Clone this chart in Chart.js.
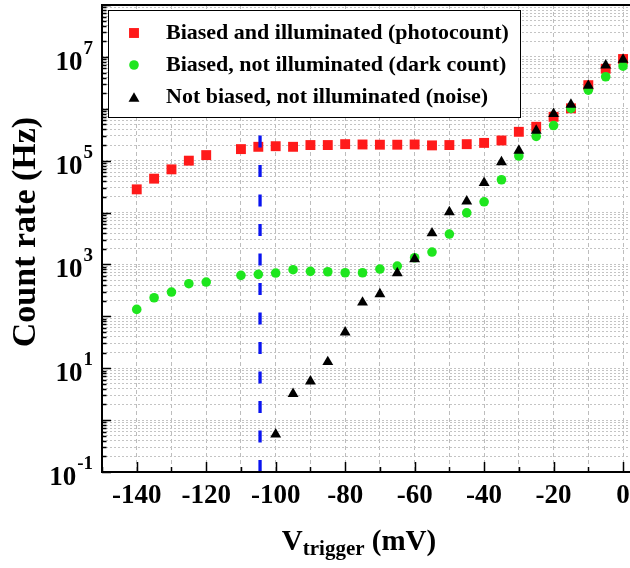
<!DOCTYPE html>
<html>
<head>
<meta charset="utf-8">
<script src="https://cdn.jsdelivr.net/npm/chart.js@4.4.1/dist/chart.umd.min.js"></script>
<style>
  html, body { margin: 0; padding: 0; background: #fff; }
  #wrap { width: 630px; height: 568px; position: relative; }
</style>
</head>
<body>
<div id="wrap"><canvas id="c"></canvas></div>
<script>
// trigger voltage (mV) for the biased runs and for the unbiased run
var vBiased = [-140, -135, -130, -125, -120, -110, -105, -100, -95, -90, -85, -80, -75, -70,
               -65, -60, -55, -50, -45, -40, -35, -30, -25, -20, -15, -10, -5, 0];
var vNoise  = [-100, -95, -90, -85, -80, -75, -70, -65, -60, -55, -50, -45, -40, -35, -30,
               -25, -20, -15, -10, -5, 0];

// count rates (Hz)
var photoCount = [2.8e4, 4.5e4, 6.8e4, 1.0e5, 1.28e5, 1.67e5, 1.85e5, 1.9e5, 1.85e5, 2.0e5,
                  2.0e5, 2.08e5, 2.05e5, 2.03e5, 2.03e5, 2.05e5, 1.97e5, 2.0e5, 2.08e5, 2.2e5,
                  2.45e5, 3.6e5, 4.5e5, 7.0e5, 1.02e6, 2.85e6, 5.9e6, 9.1e6];
var darkCount  = [136, 228, 294, 425, 458, 617, 645, 683, 791, 736, 723, 692, 692, 815, 931,
                  1345, 1734, 3850, 9900, 16100, 42900, 123000, 294000, 475000, 1.02e6,
                  2.29e6, 4.14e6, 6.65e6];
var noiseCount = [0.53, 3.2, 5.6, 13.2, 49, 185, 268, 680, 1270, 4000, 10200, 16400, 37500,
                  94000, 157000, 380000, 800000, 1.2e6, 2.8e6, 6.9e6, 8.9e6];

// dashed marker line
var cutoffV = -104.5;

var seriesNames = ['Biased and illuminated (photocount)',
                   'Biased, not illuminated (dark count)',
                   'Not biased, not illuminated (noise)'];

var xTickValues = [-150, -140, -130, -120, -110, -100, -90, -80, -70, -60, -50, -40, -30, -20, -10, 0];
var xTickLabels = [-140, -120, -100, -80, -60, -40, -20, 0];
var yLabelExps  = [-1, 1, 3, 5, 7];

var yGridValues = [];
for (var e = -1; e < 8; e++) {
  for (var k = 1; k < 10; k++) yGridValues.push(k * Math.pow(10, e));
}
yGridValues.push(1e8);

function pts(xs, ys) {
  return xs.map(function (x, i) { return { x: x, y: ys[i] }; });
}

var SERIF = '"Liberation Serif", "Times New Roman", serif';
var RED = '#ff1a1a', GREEN = '#1ee61e', BLACK = '#000000', BLUE = '#0a14f0';

var decor = {
  id: 'decor',
  afterDatasetsDraw: function (chart) {
    var ctx = chart.ctx, a = chart.chartArea;
    var xs = chart.scales.x, ys = chart.scales.y;
    ctx.save();

    // frame (right side runs off the canvas)
    ctx.strokeStyle = '#000';
    ctx.lineWidth = 2;
    ctx.strokeRect(a.left, a.top, a.right - a.left + 20, a.bottom - a.top);

    // inward ticks
    ctx.lineWidth = 1.5;
    ctx.beginPath();
    xTickValues.forEach(function (v) {
      var px = Math.round(xs.getPixelForValue(v)) + 0.5;
      ctx.moveTo(px, a.bottom);
      ctx.lineTo(px, a.bottom - (xTickLabels.indexOf(v) >= 0 ? 10 : 5));
    });
    yGridValues.forEach(function (v) {
      var py = Math.round(ys.getPixelForValue(v)) + 0.5;
      var major = Math.abs(Math.log10(v) - Math.round(Math.log10(v))) < 1e-9;
      ctx.moveTo(a.left, py);
      ctx.lineTo(a.left + (major ? 9 : 4.5), py);
    });
    ctx.stroke();

    // y tick labels 10^n
    ctx.fillStyle = '#000';
    ctx.textAlign = 'right';
    ctx.textBaseline = 'alphabetic';
    yLabelExps.forEach(function (n) {
      var py = ys.getPixelForValue(Math.pow(10, n));
      ctx.font = 'bold 19px ' + SERIF;
      var exp = String(n);
      var ew = ctx.measureText(exp).width;
      ctx.fillText(exp, 93, py - 3);
      ctx.font = 'bold 27px ' + SERIF;
      ctx.fillText('10', 93 - ew - 1, py + 13);
    });

    // y title
    ctx.save();
    ctx.translate(26, 232);
    ctx.rotate(-Math.PI / 2);
    ctx.textAlign = 'center';
    ctx.textBaseline = 'middle';
    ctx.font = 'bold 34px ' + SERIF;
    ctx.fillText('Count rate (Hz)', 0, 0);
    ctx.restore();

    // x title: V_trigger (mV)
    ctx.textAlign = 'left';
    var big = 'bold 29px ' + SERIF, small = 'bold 21px ' + SERIF;
    ctx.font = big;
    var w1 = ctx.measureText('V').width, w3 = ctx.measureText(' (mV)').width;
    ctx.font = small;
    var w2 = ctx.measureText('trigger').width;
    var x0 = 359 - (w1 + w2 + w3) / 2, base = 550;
    ctx.font = big;
    ctx.fillText('V', x0, base);
    ctx.font = small;
    ctx.fillText('trigger', x0 + w1, base + 5);
    ctx.font = big;
    ctx.fillText(' (mV)', x0 + w1 + w2, base);

    // legend box
    ctx.fillStyle = '#fff';
    ctx.fillRect(108, 10, 413, 107);
    ctx.strokeStyle = '#000';
    ctx.lineWidth = 1;
    ctx.strokeRect(108.5, 10.5, 412, 107);
    var styles = [
      { style: 'rect', r: 7, c: RED },
      { style: 'circle', r: 4.8, c: GREEN },
      { style: 'triangle', r: 6.3, c: BLACK }
    ];
    ctx.font = 'bold 22px ' + SERIF;
    ctx.textBaseline = 'middle';
    seriesNames.forEach(function (name, i) {
      var yy = 33 + i * 32;
      ctx.fillStyle = styles[i].c;
      ctx.strokeStyle = styles[i].c;
      Chart.helpers.drawPoint(ctx, { pointStyle: styles[i].style, radius: styles[i].r, borderWidth: 0, rotation: 0 }, 134, yy + (i === 2 ? 1.5 : 0));
      ctx.fillStyle = '#000';
      ctx.fillText(name, 166, yy);
    });

    ctx.restore();
  }
};

var font = { family: SERIF, weight: 'bold', size: 27 };

new Chart(document.getElementById('c'), {
  type: 'scatter',
  data: {
    datasets: [
      {
        label: 'cutoff',
        type: 'line',
        data: [{ x: cutoffV, y: 0.1 }, { x: cutoffV, y: 1e8 }],
        borderColor: BLUE,
        borderWidth: 3.3,
        borderDash: [12, 17.5],
        pointRadius: 0,
        fill: false,
        order: 0
      },
      {
        label: seriesNames[2],
        data: pts(vNoise, noiseCount),
        pointStyle: 'triangle',
        pointRadius: 6.3,
        backgroundColor: BLACK,
        borderColor: BLACK,
        borderWidth: 0,
        order: 1
      },
      {
        label: seriesNames[1],
        data: pts(vBiased, darkCount),
        pointStyle: 'circle',
        pointRadius: 4.8,
        backgroundColor: GREEN,
        borderColor: GREEN,
        borderWidth: 0,
        order: 2
      },
      {
        label: seriesNames[0],
        data: pts(vBiased, photoCount),
        pointStyle: 'rect',
        pointRadius: 7,
        backgroundColor: RED,
        borderColor: RED,
        borderWidth: 0,
        order: 3
      }
    ]
  },
  options: {
    responsive: true,
    maintainAspectRatio: false,
    animation: false,
    events: [],
    layout: { autoPadding: false, padding: { top: 5, right: 0, left: 0, bottom: 0 } },
    plugins: { legend: { display: false }, tooltip: { enabled: false } },
    scales: {
      x: {
        type: 'linear',
        min: -150,
        max: 2,
        afterBuildTicks: function (s) { s.ticks = xTickValues.map(function (v) { return { value: v }; }); },
        afterFit: function (s) { s.height = 96; s.paddingLeft = 0; s.paddingRight = 0; },
        ticks: {
          autoSkip: false,
          maxRotation: 0,
          minRotation: 0,
          padding: 8,
          color: '#000',
          font: font,
          callback: function (v) { return xTickLabels.indexOf(v) >= 0 ? String(v) : ''; }
        },
        grid: { color: '#bdbdbd', lineWidth: 1, drawTicks: false },
        border: { display: false, dash: [4, 3] }
      },
      y: {
        type: 'logarithmic',
        min: 0.1,
        max: 1e8,
        afterBuildTicks: function (s) { s.ticks = yGridValues.map(function (v) { return { value: v }; }); },
        afterFit: function (s) { s.width = 102; s.paddingTop = 0; s.paddingBottom = 0; },
        ticks: { display: false },
        grid: { color: '#c4c4c4', lineWidth: 1, drawTicks: false },
        border: { display: false, dash: [2, 2] }
      }
    }
  },
  plugins: [decor]
});
</script>
</body>
</html>
